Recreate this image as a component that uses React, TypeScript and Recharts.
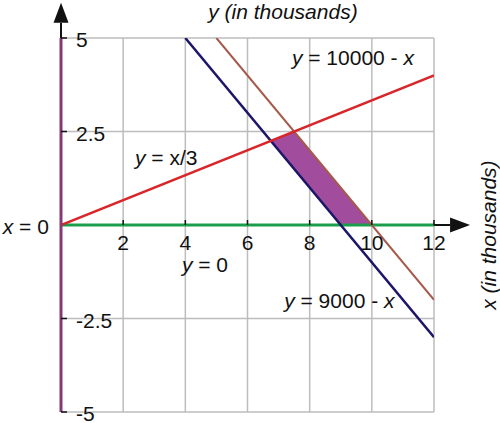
import {
  ComposedChart,
  Line,
  Area,
  XAxis,
  YAxis,
  CartesianGrid,
  ReferenceLine,
  ReferenceDot,
} from 'recharts';

const X_TICKS = [0, 2, 4, 6, 8, 10, 12];
const Y_TICKS = [-5, -2.5, 0, 2.5, 5];
const X_LABELS = [2, 4, 6, 8, 10, 12];
const Y_LABELS = [5, 2.5, -2.5, -5];

// boundary lines (x, y in thousands)
const lineXOver3 = [{ x: 0, y: 0 }, { x: 12, y: 4 }];
const line10000 = [{ x: 5, y: 5 }, { x: 12, y: -2 }];
const line9000 = [{ x: 4, y: 5 }, { x: 12, y: -3 }];
const lineY0 = [{ x: 0, y: 0 }, { x: 12, y: 0 }];

// feasible region: [lower, upper] at each break point
const feasible = [
  { x: 6.75, range: [2.25, 2.25] },
  { x: 7.5, range: [1.5, 2.5] },
  { x: 9, range: [0, 1] },
  { x: 10, range: [0, 0] },
];

const FONT = '"Liberation Sans", Arial, sans-serif';

type Part = [string, boolean];
const ANNOTATIONS: { x: number; y: number; anchor: string; rotate?: boolean; parts: Part[] }[] = [
  { x: 7.14, y: 5.51, anchor: 'middle', parts: [['y (in thousands)', true]] },
  { x: 7.43, y: 4.28, anchor: 'start', parts: [['y', true], [' = 10000 - ', false], ['x', true]] },
  { x: 2.38, y: 1.6, anchor: 'start', parts: [['y', true], [' = x/3', false]] },
  { x: -0.39, y: -0.24, anchor: 'end', parts: [['x', true], [' = 0', false]] },
  { x: 3.89, y: -1.26, anchor: 'start', parts: [['y', true], [' = 0', false]] },
  { x: 7.18, y: -2.22, anchor: 'start', parts: [['y', true], [' = 9000 - ', false], ['x', true]] },
  { x: 14.0, y: -0.27, anchor: 'middle', rotate: true, parts: [['x (in thousands)', true]] },
];

function Arrow(props: any) {
  const { x1, y1, x2, y2 } = props;
  const dx = x2 - x1;
  const dy = y2 - y1;
  const len = Math.sqrt(dx * dx + dy * dy) || 1;
  const ux = dx / len;
  const uy = dy / len;
  const headLen = 20;
  const half = 7.5;
  const bx = x2 - ux * headLen;
  const by = y2 - uy * headLen;
  const pts = `${x2},${y2} ${bx - uy * half},${by + ux * half} ${bx + uy * half},${by - ux * half}`;
  return (
    <g>
      <line x1={x1} y1={y1} x2={bx} y2={by} stroke="#111" strokeWidth={2} />
      <polygon points={pts} fill="#111" />
    </g>
  );
}

const noTick = () => <g />;

export default function App() {
  return (
    <div style={{ position: 'absolute', left: 0, top: 0, background: '#fff' }}>
      <ComposedChart width={500} height={423} margin={{ top: 38, right: 66, bottom: 11, left: 61 }}>
        <CartesianGrid stroke="#bdbdbd" strokeWidth={1.5} />
        <XAxis
          dataKey="x"
          type="number"
          domain={[0, 12]}
          ticks={X_TICKS}
          allowDataOverflow
          height={0}
          tick={noTick}
          axisLine={false}
          tickLine={false}
        />
        <YAxis
          type="number"
          domain={[-5, 5]}
          ticks={Y_TICKS}
          allowDataOverflow
          width={0}
          tick={noTick}
          axisLine={false}
          tickLine={false}
        />
        <Area
          data={feasible}
          dataKey="range"
          type="linear"
          stroke="none"
          fill="#a24c9e"
          fillOpacity={1}
          isAnimationActive={false}
        />
        <Line data={lineY0} dataKey="y" type="linear" stroke="#1a9e4c" strokeWidth={3} dot={false} isAnimationActive={false} />
        <Line data={line10000} dataKey="y" type="linear" stroke="#a5594a" strokeWidth={2} dot={false} isAnimationActive={false} />
        <Line data={line9000} dataKey="y" type="linear" stroke="#1c1668" strokeWidth={2.5} dot={false} isAnimationActive={false} />
        <Line data={lineXOver3} dataKey="y" type="linear" stroke="#d9262a" strokeWidth={2.5} dot={false} isAnimationActive={false} />
        <ReferenceLine x={0} stroke="#853a76" strokeWidth={3} />
        <ReferenceLine
          segment={[{ x: 0, y: 5 }, { x: 0, y: 5.94 }]}
          ifOverflow="visible"
          shape={(p: any) => <Arrow {...p} />}
        />
        <ReferenceLine
          segment={[{ x: 12, y: 0 }, { x: 13.16, y: 0 }]}
          ifOverflow="visible"
          shape={(p: any) => <Arrow {...p} />}
        />
        {X_LABELS.map((v) => (
          <ReferenceDot
            key={`xl-${v}`}
            x={v}
            y={0}
            r={0}
            ifOverflow="visible"
            shape={(p: any) => (
              <g>
                <line x1={p.cx} y1={p.cy - 5} x2={p.cx} y2={p.cy} stroke="#111" strokeWidth={1.5} />
                <text x={p.cx} y={p.cy + 25} fontSize={21} fontFamily={FONT} fill="#111" textAnchor="middle">
                  {String(v)}
                </text>
              </g>
            )}
          />
        ))}
        {Y_LABELS.map((v) => (
          <ReferenceDot
            key={`yl-${v}`}
            x={0}
            y={v}
            r={0}
            ifOverflow="visible"
            shape={(p: any) => (
              <g>
                <line x1={p.cx} y1={p.cy} x2={p.cx + 6} y2={p.cy} stroke="#111" strokeWidth={1.5} />
                <text x={p.cx + 15} y={p.cy + 9} fontSize={21} fontFamily={FONT} fill="#111" textAnchor="start">
                  {String(v)}
                </text>
              </g>
            )}
          />
        ))}
        {ANNOTATIONS.map((a, i) => (
          <ReferenceDot
            key={`an-${i}`}
            x={a.x}
            y={a.y}
            r={0}
            ifOverflow="visible"
            shape={(p: any) => (
              <text
                x={p.cx}
                y={p.cy}
                fontSize={21}
                fontFamily={FONT}
                fill="#111"
                textAnchor={a.anchor}
                transform={a.rotate ? `rotate(-90 ${p.cx} ${p.cy})` : undefined}
              >
                {a.parts.map(([t, it], j) => (
                  <tspan key={j} fontStyle={it ? 'italic' : 'normal'}>
                    {t}
                  </tspan>
                ))}
              </text>
            )}
          />
        ))}
      </ComposedChart>
    </div>
  );
}
